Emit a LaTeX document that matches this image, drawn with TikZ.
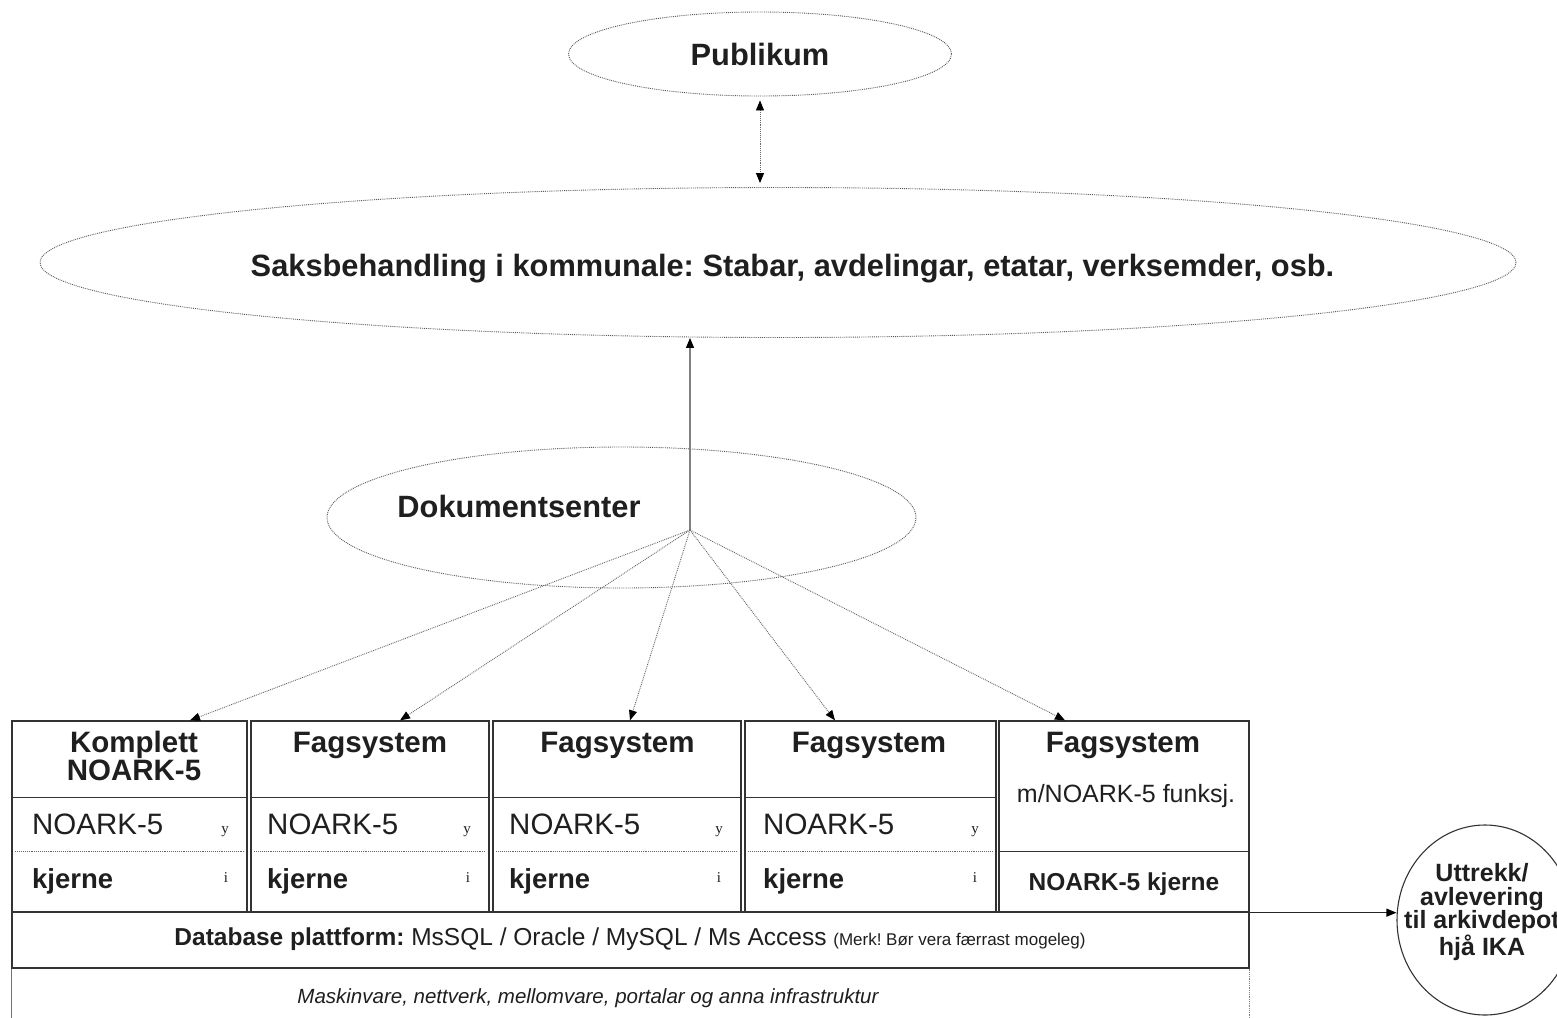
\documentclass[tikz,border=0pt]{standalone}
\usepackage{fontspec}
\setmainfont{Liberation Sans}
\newfontfamily\smallserif{Liberation Serif}
\usetikzlibrary{shapes.geometric,arrows.meta}
\frenchspacing
\newcommand\fs[1]{\fontsize{#1}{#1}\selectfont}
\newcommand\fsl[2]{\fontsize{#1}{#2}\selectfont}
\begin{document}
\begin{tikzpicture}[x=1pt,y=-1pt,
  ell/.style={ellipse, draw=black!65, line width=0.9pt, densely dotted, inner sep=0pt},
  txt/.style={inner sep=0pt, text=black!88},
  cell/.style={rectangle, draw=black!80, line width=1.3pt, inner sep=0pt},
  rule/.style={draw=black!80, line width=1.3pt},
  dotrule/.style={draw=black!60, line width=0.9pt, densely dotted},
  tiphead/.style={-{Triangle[length=10pt,width=8pt,black]}},
  feed/.style={tiphead, draw=black!60, line width=0.9pt, densely dotted},
  upline/.style={tiphead, draw=black!50, line width=1.1pt},
  dbl/.style={{Triangle[length=10pt,width=8pt,black]}-{Triangle[length=10pt,width=8pt,black]}, draw=black!60, line width=0.9pt, densely dotted, shorten <=4pt, shorten >=4pt},
  outarrow/.style={tiphead, draw=black!85, line width=1.1pt},
  hd/.style={txt, font=\fs{29.5}\bfseries},
  nk/.style={txt, anchor=base west, font=\fs{29.5}},
  kj/.style={txt, anchor=base west, font=\fs{27.5}\bfseries},
  sm/.style={txt, anchor=base, font=\smallserif\fs{15}}
]
\useasboundingbox[fill=white] (0,0) rectangle (1557,1017);

% ellipses
\node[ell, minimum width=383, minimum height=84, font=\fs{30.8}\bfseries, text=black!88] (pub) at (760,54) {Publikum};
\node[ell, minimum width=1476, minimum height=150] (sak) at (778,262.5) {};
\node[txt, anchor=base, font=\fs{30.8}\bfseries] (saktxt) at (792.5,276) {Saksbehandling i kommunale: Stabar, avdelingar, etatar, verksemder, osb.};
\node[ell, minimum width=589, minimum height=141] (dok) at (621.5,517.5) {};
\node[txt, anchor=base, font=\fs{30.8}\bfseries] (doktxt) at (519,517) {Dokumentsenter};
\coordinate (hub) at (690,530);

% table columns
\node[cell, minimum width=235, minimum height=191] (c1) at (129.5,816.5) {};
\node[cell, minimum width=238, minimum height=191] (c2) at (370,816.5) {};
\node[cell, minimum width=248, minimum height=191] (c3) at (617,816.5) {};
\node[cell, minimum width=251, minimum height=191] (c4) at (870.5,816.5) {};
\node[cell, minimum width=250, minimum height=191] (c5) at (1124,816.5) {};
\node[cell, minimum width=1237, minimum height=56] (db) at (630.5,940) {};

\foreach \c in {c1,c2,c3,c4} {
  \draw[rule] ([yshift=-77]\c.north west) -- ([yshift=-77]\c.north east);
  \draw[dotrule] ([xshift=4,yshift=-131]\c.north west) -- ([xshift=-4,yshift=-131]\c.north east);
}
\draw[rule] ([yshift=-131]c5.north west) -- ([yshift=-131]c5.north east);
\draw[draw=black!55, line width=1pt] (db.south west) -- ++(0,50);
\draw[draw=black!50, line width=0.8pt, densely dotted] (db.south east) -- ++(0,50);

% headers
\node[hd, align=center, font=\fsl{29.5}{28}\bfseries] (h1) at (134,755.5) {Komplett\\NOARK-5};
\node[hd, anchor=base] (h2) at (370,752) {Fagsystem};
\node[hd, anchor=base] (h3) at (617.5,752) {Fagsystem};
\node[hd, anchor=base] (h4) at (869,752) {Fagsystem};
\node[hd, anchor=base] (h5) at (1123,752) {Fagsystem};

% rows
\node[nk] (n1) at (32,834) {NOARK-5};
\node[nk] (n2) at (267,834) {NOARK-5};
\node[nk] (n3) at (509,834) {NOARK-5};
\node[nk] (n4) at (763,834) {NOARK-5};
\node[sm] (y1) at (225,833) {y};
\node[sm] (y2) at (467,833) {y};
\node[sm] (y3) at (719,833) {y};
\node[sm] (y4) at (975,833) {y};
\node[kj] (k1) at (32,888) {kjerne};
\node[kj] (k2) at (267,888) {kjerne};
\node[kj] (k3) at (509,888) {kjerne};
\node[kj] (k4) at (763,888) {kjerne};
\node[sm] (i1) at (226,882) {i};
\node[sm] (i2) at (468,882) {i};
\node[sm] (i3) at (719,882) {i};
\node[sm] (i4) at (975,882) {i};
\node[txt, anchor=base, font=\fs{25}] (m5) at (1126,802) {m/NOARK-5 funksj.};
\node[txt, anchor=base, font=\fs{24.5}\bfseries] (k5) at (1124,890) {NOARK-5 kjerne};

% database and infrastructure
\node[txt, anchor=base, font=\fs{24.5}] (dbtxt) at (630,945) {\textbf{Database plattform:} MsSQL / Oracle / MySQL / Ms Access {\fs{17}(Merk! Bør vera færrast mogeleg)}};
\node[txt, anchor=base, font=\fs{20.5}\itshape] (inftxt) at (588,1003) {Maskinvare, nettverk, mellomvare, portalar og anna infrastruktur};

% IKA
\node[ellipse, draw=black!80, line width=1.1pt, minimum width=176, minimum height=190, inner sep=0pt] (ika) at (1485,920) {};
\node[txt, align=center, font=\fsl{25}{23.5}\bfseries] (ikatxt) at (1482,912) {Uttrekk/\\avlevering\\til arkivdepot\\hjå IKA};

% connectors
\draw[dbl] (pub.south) -- (pub.south |- sak.north);
\draw[upline] (hub) -- (hub |- sak.south);
\draw[feed] (hub) -- ([xshift=60.5]c1.north);
\draw[feed] (hub) -- ([xshift=30]c2.north);
\draw[feed] (hub) -- ([xshift=13]c3.north);
\draw[feed] (hub) -- ([xshift=-35.5]c4.north);
\draw[feed] (hub) -- ([xshift=-59]c5.north);
\draw[outarrow] (c5.south east) -- (c5.south east -| ika.west);
\end{tikzpicture}
\end{document}
